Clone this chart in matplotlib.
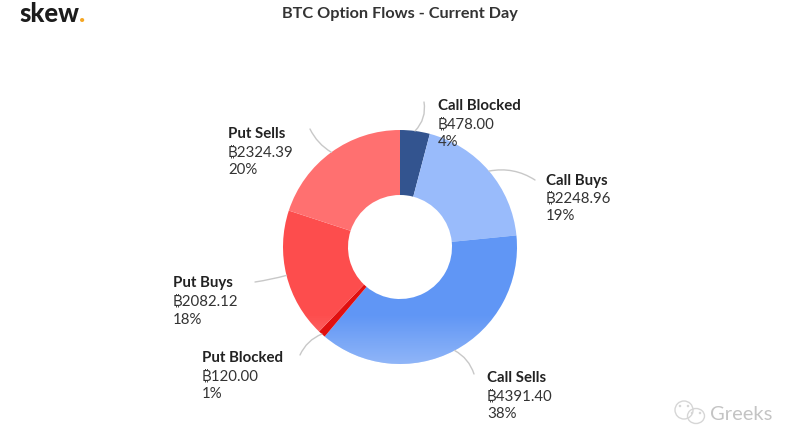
import matplotlib
matplotlib.use('Agg')
import matplotlib.pyplot as plt
from matplotlib.patches import Ellipse
import numpy as np

# Lato has no bitcoin sign, the later families are there for that one glyph
plt.rcParams['font.family'] = ['Lato', 'Inter', 'Noto Sans', 'Roboto', 'Open Sans', 'DejaVu Sans']

names = ['Call Blocked', 'Call Buys', 'Call Sells', 'Put Blocked', 'Put Buys', 'Put Sells']
flows = [478.00, 2248.96, 4391.40, 120.00, 2082.12, 2324.39]
percents = [4, 19, 38, 1, 18, 20]
colors = ['#33548f', '#99bbfb', '#6096f5', '#e01010', '#fd4d4d', '#ff7070']

# where each label sits, and where its leader line stops (pixels, y down)
label_pos = [(438, 106.5), (546, 180.5), (487, 378.5), (202, 358.5), (173, 283.5), (228, 134.5)]
line_end = [(424, 102), (535, 180), (474, 374), (300, 355), (255, 282), (310, 129)]
line_rad = [-0.25, 0.2, 0.2, -0.2, 0.03, 0.15]

W, H = 800, 447
fig = plt.figure(figsize=(8, 4.47), dpi=100)
ax = fig.add_axes([0, 0, 1, 1])

cx, cy, r_out, r_in = 400, 447 - 247, 117, 52

wedges, _ = ax.pie(flows, colors=colors, startangle=90, counterclock=False,
                   center=(cx, cy), radius=r_out, frame=True,
                   wedgeprops=dict(width=r_out - r_in, linewidth=0))
ax.set_xlim(0, W)
ax.set_ylim(0, H)
ax.set_aspect('equal')
ax.axis('off')

# the lighter band along the bottom of the two big slices
ramp = np.zeros((64, 2, 4))
ramp[..., :3] = 1
ramp[..., 3] = np.linspace(0.3, 0, 64)[:, None]
for i in [2, 4]:
    im = ax.imshow(ramp, extent=(cx - r_out, cx + r_out, cy - r_out, cy - r_out + 50),
                   origin='lower', interpolation='bilinear', zorder=wedges[i].get_zorder() + 0.1)
    im.set_clip_path(wedges[i])
ax.set_xlim(0, W)
ax.set_ylim(0, H)

# labels and leader lines
for i, name in enumerate(names):
    x, y = label_pos[i]
    ax.text(x, H - y, name, fontsize=10.8, fontweight='bold', color='#222222', va='center')
    ax.text(x, H - y - 18, '\u20bf%.2f' % flows[i], fontsize=10.8, color='#333333', va='center')
    ax.text(x, H - y - 36, '%d%%' % percents[i], fontsize=10.8, color='#333333', va='center')

    mid = np.deg2rad((wedges[i].theta1 + wedges[i].theta2) / 2)
    ax.annotate('', xy=(cx + r_out * np.cos(mid), cy + r_out * np.sin(mid)),
                xytext=(line_end[i][0], H - line_end[i][1]),
                arrowprops=dict(arrowstyle='-', color='#c8c8c8', lw=1, shrinkA=0, shrinkB=0,
                                connectionstyle='arc3,rad=%.2f' % line_rad[i]))

ax.text(400, H - 14, 'BTC Option Flows - Current Day', fontsize=11.7, fontweight='bold',
        color='#333333', ha='center', va='center')

# logo
ax.text(19.5, H - 14, 'skew', fontsize=18.5, fontweight='black', color='#1c1c1c', va='center')
ax.text(78.5, H - 14, '.', fontsize=18.5, fontweight='black', color='#f5a623', va='center')

# watermark
for (ex, ey, ew, eh) in [(684, 410, 18, 18), (696, 416, 17, 15)]:
    ax.add_patch(Ellipse((ex, H - ey), ew, eh, fill=False, ec='#d6d6d6', lw=1))
for (ex, ey) in [(680, 406), (688, 406), (692, 413), (700, 413)]:
    ax.add_patch(Ellipse((ex, H - ey), 2.5, 2.5, fc='#d6d6d6', ec='none'))
ax.text(710, H - 414, 'Greeks', fontsize=14.5, color='#c4c4c4', va='center')

fig.savefig('out.png', dpi=100)
